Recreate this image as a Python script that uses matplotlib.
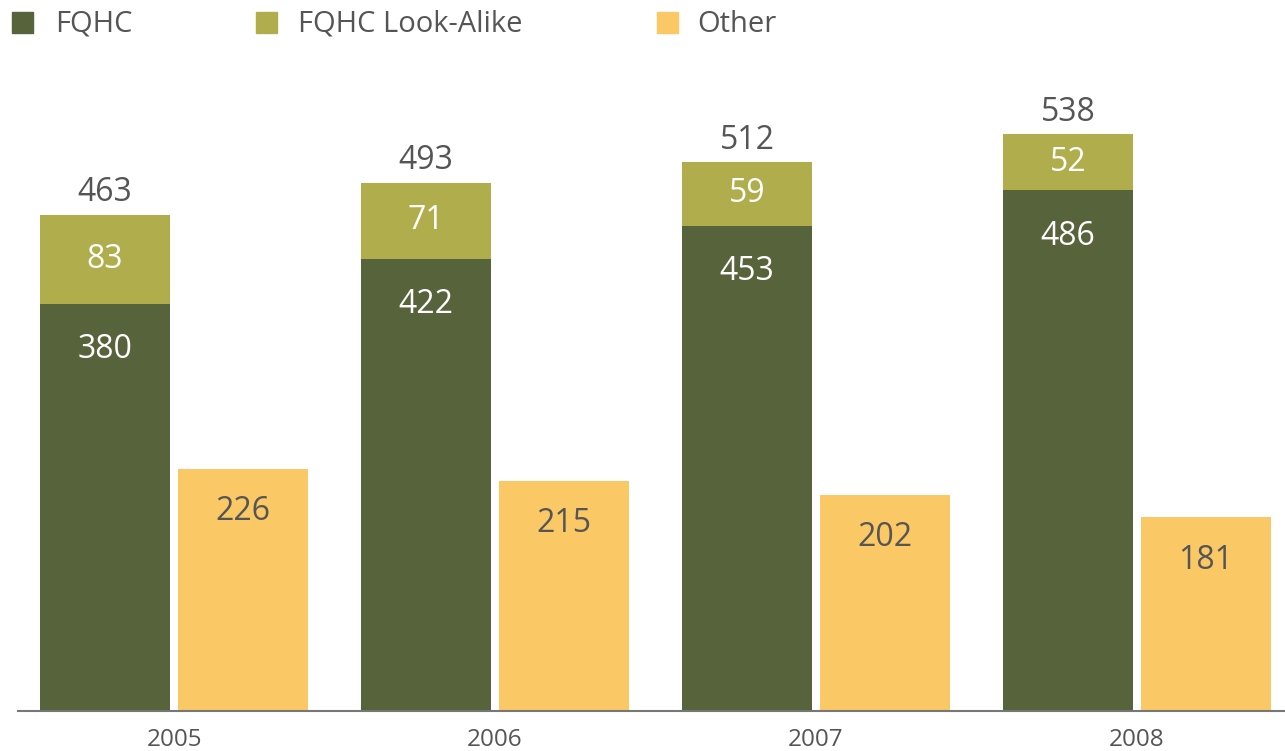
import matplotlib
matplotlib.use("Agg")
import matplotlib.pyplot as plt
import numpy as np
from matplotlib.patches import Rectangle

years = ["2005", "2006", "2007", "2008"]
fqhc = [380, 422, 453, 486]
lookalike = [83, 71, 59, 52]
other = [226, 215, 202, 181]
totals = [463, 493, 512, 538]

C_FQHC = "#57633A"
C_LA = "#B0AE4C"
C_OTHER = "#FAC865"
C_TEXT = "#555555"

plt.rcParams['font.family'] = ['Open Sans', 'DejaVu Sans']

fig = plt.figure(figsize=(12.85, 7.51), dpi=100)
ax = fig.add_axes([18/1285, 40/751, 1267/1285, 643/751])

x = np.arange(len(years))
w = 0.405
off = 0.215

ax.bar(x - off, fqhc, w, color=C_FQHC, label="FQHC")
ax.bar(x - off, lookalike, w, bottom=fqhc, color=C_LA, label="FQHC Look-Alike")
ax.bar(x + off, other, w, color=C_OTHER, label="Other")

fs_val = 23
for i in range(len(years)):
    ax.annotate(str(fqhc[i]), (x[i] - off, fqhc[i]), xytext=(0, -33), textcoords="offset points",
                ha="center", va="center", color="white", fontsize=fs_val)
    ax.text(x[i] - off, fqhc[i] + lookalike[i] / 2, str(lookalike[i]),
            ha="center", va="center", color="white", fontsize=fs_val)
    ax.annotate(str(totals[i]), (x[i] - off, totals[i]), xytext=(0, 16), textcoords="offset points",
                ha="center", va="center", color=C_TEXT, fontsize=fs_val)
    ax.annotate(str(other[i]), (x[i] + off, other[i]), xytext=(0, -31), textcoords="offset points",
                ha="center", va="center", color=C_TEXT, fontsize=fs_val)

ax.set_xlim((18 - 174) / 321, (1285 - 174) / 321)
ax.set_ylim(0, 600)
ax.set_xticks(x)
ax.set_xticklabels(years, fontsize=17.5, color=C_TEXT)
ax.tick_params(axis="x", length=0, pad=12)
ax.set_yticks([])
for s in ["top", "right", "left"]:
    ax.spines[s].set_visible(False)
ax.spines["bottom"].set_color("#777777")
ax.spines["bottom"].set_linewidth(1.5)

# legend
leg_items = [("FQHC", C_FQHC, 12, 55), ("FQHC Look-Alike", C_LA, 256, 298), ("Other", C_OTHER, 657, 697)]
for name, col, sx, tx in leg_items:
    fig.patches.append(Rectangle((sx / 1285, 1 - 33 / 751), 21 / 1285, 21 / 751,
                                 transform=fig.transFigure, color=col, figure=fig))
    fig.text(tx / 1285, 1 - 24 / 751, name, ha="left", va="center", fontsize=21, color=C_TEXT)

fig.savefig("out.png", dpi=100)
